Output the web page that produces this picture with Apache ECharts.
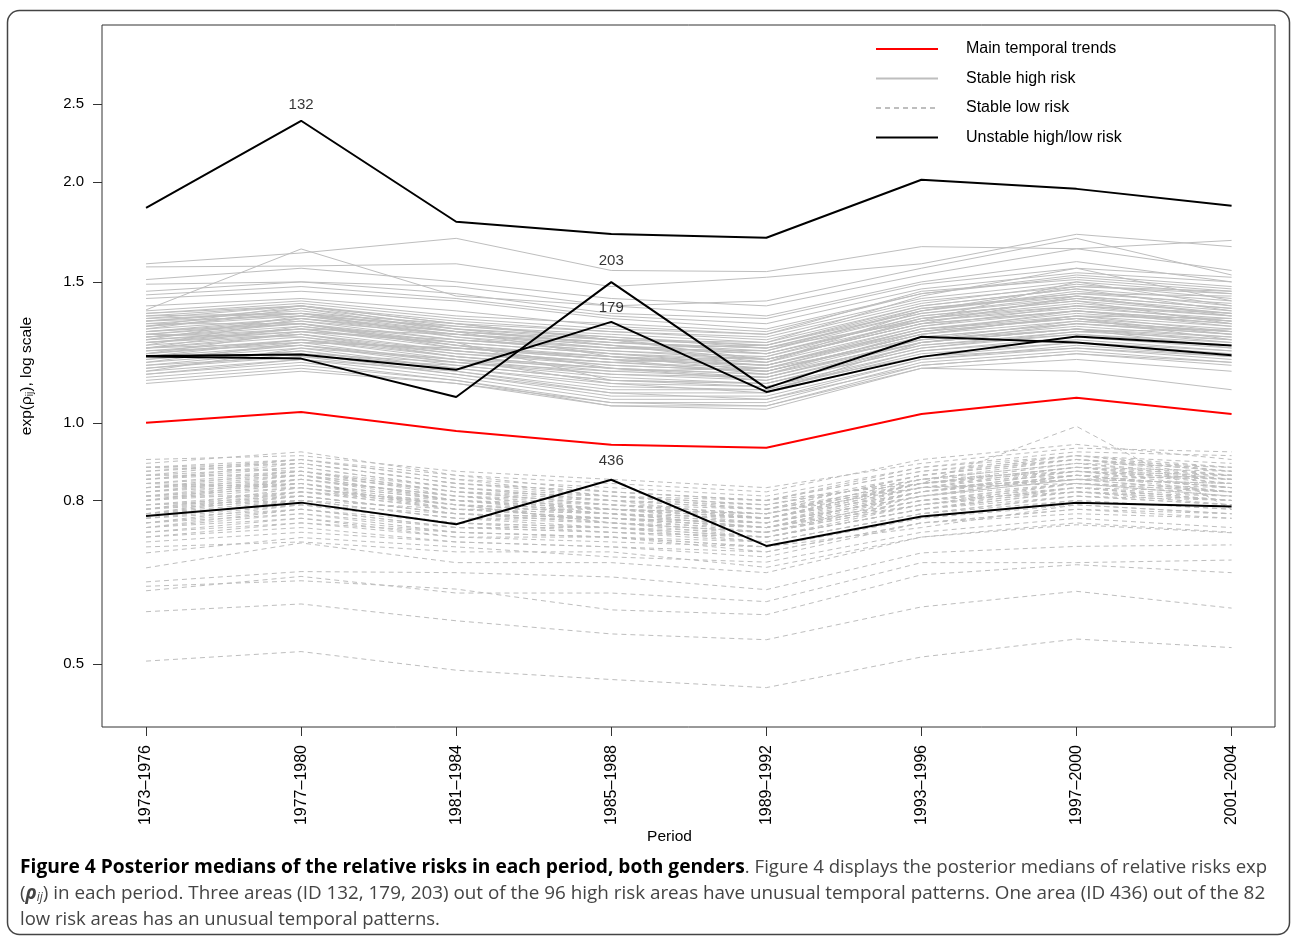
<!DOCTYPE html>
<html><head><meta charset="utf-8">
<script src="https://cdn.jsdelivr.net/npm/echarts@6/dist/echarts.min.js"></script>
<style>html,body{margin:0;padding:0;background:#fff}#c{width:1292px;height:939px}</style>
</head><body><div id="c"></div>
<script>
const periods = ['1973\u20131976','1977\u20131980','1981\u20131984','1985\u20131988','1989\u20131992','1993\u20131996','1997\u20132000','2001\u20132004'];
const yTicks = [0.5, 0.8, 1.0, 1.5, 2.0, 2.5];
const mainTrend = [1.000,1.032,0.977,0.939,0.931,1.026,1.075,1.026];
const area132 = [1.856,2.384,1.783,1.722,1.703,2.012,1.960,1.867];
const area203 = [1.210,1.203,1.077,1.499,1.105,1.281,1.260,1.215];
const area179 = [1.212,1.217,1.165,1.337,1.093,1.209,1.282,1.249];
const area436 = [0.765,0.795,0.747,0.849,0.702,0.764,0.795,0.786];
const stableHigh = [
 [1.58,1.63,1.70,1.55,1.545,1.66,1.65,1.69],
 [1.566,1.57,1.58,1.48,1.52,1.58,1.72,1.66],
 [1.384,1.649,1.44,1.40,1.42,1.56,1.70,1.53],
 [1.51,1.56,1.50,1.43,1.40,1.53,1.65,1.55],
 [1.49,1.50,1.48,1.40,1.36,1.50,1.59,1.50],
 [1.46,1.50,1.45,1.37,1.35,1.49,1.56,1.52],
 [1.445,1.48,1.43,1.36,1.33,1.47,1.54,1.50],
 [1.43,1.46,1.42,1.35,1.31,1.45,1.53,1.48],
 [1.38,1.42,1.36,1.33,1.30,1.45,1.52,1.47],
 [1.37,1.41,1.35,1.31,1.29,1.43,1.50,1.45],
 [1.36,1.40,1.34,1.30,1.28,1.42,1.48,1.46],
 [1.35,1.40,1.33,1.30,1.27,1.41,1.49,1.43],
 [1.34,1.39,1.32,1.29,1.26,1.40,1.47,1.42],
 [1.34,1.38,1.31,1.28,1.25,1.39,1.45,1.41],
 [1.33,1.37,1.31,1.27,1.25,1.38,1.46,1.40],
 [1.32,1.37,1.30,1.26,1.24,1.37,1.44,1.39],
 [1.32,1.36,1.29,1.26,1.23,1.37,1.43,1.38],
 [1.31,1.35,1.29,1.25,1.22,1.36,1.42,1.37],
 [1.30,1.35,1.28,1.24,1.22,1.35,1.41,1.36],
 [1.30,1.34,1.27,1.23,1.21,1.34,1.40,1.36],
 [1.29,1.33,1.27,1.23,1.20,1.34,1.39,1.35],
 [1.28,1.33,1.26,1.22,1.20,1.33,1.38,1.34],
 [1.28,1.32,1.25,1.21,1.19,1.32,1.38,1.33],
 [1.27,1.31,1.25,1.20,1.18,1.31,1.37,1.33],
 [1.26,1.31,1.24,1.20,1.18,1.31,1.36,1.32],
 [1.26,1.30,1.23,1.19,1.17,1.30,1.35,1.31],
 [1.25,1.29,1.23,1.18,1.16,1.29,1.34,1.30],
 [1.24,1.29,1.22,1.18,1.16,1.28,1.33,1.30],
 [1.24,1.28,1.21,1.17,1.15,1.28,1.33,1.29],
 [1.23,1.27,1.21,1.16,1.14,1.27,1.32,1.28],
 [1.22,1.27,1.20,1.15,1.14,1.26,1.31,1.27],
 [1.22,1.26,1.19,1.15,1.13,1.25,1.30,1.27],
 [1.21,1.25,1.19,1.14,1.12,1.25,1.29,1.26],
 [1.20,1.25,1.18,1.13,1.12,1.24,1.29,1.25],
 [1.20,1.24,1.17,1.12,1.11,1.23,1.28,1.24],
 [1.19,1.23,1.17,1.11,1.10,1.23,1.27,1.23],
 [1.18,1.23,1.16,1.10,1.10,1.22,1.26,1.23],
 [1.17,1.22,1.15,1.09,1.09,1.21,1.26,1.22],
 [1.17,1.21,1.15,1.08,1.08,1.20,1.25,1.21],
 [1.16,1.20,1.14,1.07,1.07,1.20,1.24,1.20],
 [1.15,1.19,1.13,1.06,1.06,1.19,1.23,1.19],
 [1.14,1.18,1.13,1.05,1.05,1.18,1.22,1.18],
 [1.13,1.17,1.12,1.05,1.04,1.17,1.20,1.16],
 [1.12,1.16,1.12,1.06,1.05,1.17,1.16,1.10],
 [1.25,1.35,1.30,1.27,1.20,1.33,1.44,1.36],
 [1.36,1.37,1.28,1.22,1.18,1.32,1.40,1.34],
 [1.22,1.30,1.27,1.24,1.25,1.40,1.47,1.38],
 [1.29,1.28,1.22,1.19,1.21,1.36,1.42,1.33],
 [1.31,1.39,1.30,1.21,1.17,1.27,1.34,1.30],
 [1.19,1.26,1.24,1.20,1.15,1.30,1.38,1.32],
 [1.27,1.36,1.32,1.28,1.24,1.34,1.50,1.40],
 [1.33,1.33,1.25,1.17,1.13,1.26,1.31,1.28],
 [1.21,1.22,1.19,1.16,1.17,1.31,1.35,1.27],
 [1.28,1.31,1.29,1.25,1.19,1.38,1.45,1.44],
 [1.24,1.32,1.26,1.13,1.12,1.24,1.30,1.31],
 [1.35,1.37,1.33,1.27,1.26,1.44,1.56,1.42],
 [1.16,1.24,1.20,1.12,1.09,1.26,1.31,1.24],
 [1.30,1.33,1.24,1.21,1.16,1.29,1.36,1.35],
 [1.37,1.40,1.33,1.27,1.22,1.35,1.43,1.37],
 [1.23,1.25,1.20,1.17,1.14,1.27,1.31,1.26],
 [1.29,1.34,1.29,1.24,1.23,1.39,1.44,1.39],
 [1.18,1.21,1.18,1.13,1.11,1.21,1.24,1.21],
 [1.26,1.29,1.21,1.17,1.15,1.26,1.33,1.29],
 [1.32,1.40,1.31,1.25,1.20,1.33,1.38,1.34],
 [1.21,1.27,1.23,1.19,1.16,1.29,1.36,1.30],
 [1.34,1.36,1.30,1.26,1.24,1.38,1.48,1.45],
 [1.15,1.20,1.16,1.09,1.07,1.18,1.22,1.19],
 [1.27,1.30,1.26,1.22,1.19,1.35,1.40,1.37],
 [1.40,1.43,1.38,1.32,1.29,1.46,1.51,1.46],
 [1.24,1.26,1.24,1.21,1.18,1.30,1.35,1.29]
];
const stableLow = [
 [0.90,0.91,0.87,0.85,0.83,0.89,0.93,0.92],
 [0.89,0.92,0.86,0.84,0.82,0.90,0.94,0.90],
 [0.88,0.90,0.85,0.83,0.81,0.88,0.92,0.91],
 [0.87,0.89,0.84,0.82,0.80,0.87,0.91,0.89],
 [0.86,0.90,0.85,0.81,0.79,0.86,0.90,0.88],
 [0.86,0.88,0.83,0.81,0.80,0.88,0.91,0.87],
 [0.85,0.87,0.82,0.80,0.79,0.85,0.89,0.88],
 [0.85,0.88,0.83,0.80,0.78,0.86,0.90,0.86],
 [0.84,0.86,0.82,0.79,0.78,0.84,0.88,0.87],
 [0.84,0.87,0.81,0.79,0.77,0.85,0.89,0.85],
 [0.83,0.85,0.81,0.78,0.77,0.84,0.87,0.86],
 [0.83,0.86,0.80,0.79,0.76,0.83,0.88,0.85],
 [0.82,0.85,0.80,0.78,0.76,0.83,0.87,0.84],
 [0.82,0.84,0.79,0.77,0.76,0.82,0.86,0.85],
 [0.81,0.84,0.80,0.77,0.75,0.82,0.86,0.83],
 [0.81,0.83,0.79,0.78,0.75,0.83,0.85,0.84],
 [0.80,0.83,0.78,0.76,0.75,0.81,0.86,0.83],
 [0.80,0.82,0.79,0.77,0.74,0.82,0.85,0.82],
 [0.79,0.82,0.78,0.76,0.74,0.80,0.84,0.83],
 [0.79,0.81,0.77,0.76,0.75,0.81,0.85,0.82],
 [0.78,0.81,0.77,0.75,0.73,0.80,0.84,0.81],
 [0.78,0.80,0.76,0.76,0.74,0.79,0.83,0.82],
 [0.77,0.80,0.76,0.75,0.73,0.80,0.83,0.80],
 [0.77,0.79,0.75,0.74,0.72,0.78,0.82,0.81],
 [0.76,0.79,0.75,0.74,0.73,0.79,0.82,0.80],
 [0.76,0.78,0.74,0.73,0.72,0.78,0.81,0.79],
 [0.75,0.78,0.74,0.74,0.71,0.77,0.81,0.80],
 [0.75,0.77,0.73,0.72,0.71,0.77,0.80,0.78],
 [0.74,0.76,0.73,0.72,0.70,0.76,0.80,0.78],
 [0.73,0.76,0.72,0.71,0.70,0.76,0.79,0.77],
 [0.73,0.75,0.72,0.72,0.69,0.75,0.78,0.77],
 [0.72,0.74,0.71,0.70,0.69,0.75,0.78,0.76],
 [0.88,0.87,0.83,0.80,0.76,0.84,0.88,0.84],
 [0.80,0.85,0.81,0.80,0.78,0.83,0.85,0.86],
 [0.84,0.83,0.79,0.75,0.74,0.82,0.87,0.85],
 [0.77,0.82,0.80,0.77,0.76,0.84,0.86,0.82],
 [0.86,0.86,0.80,0.78,0.77,0.85,0.90,0.87],
 [0.79,0.80,0.78,0.78,0.77,0.83,0.84,0.81],
 [0.82,0.86,0.82,0.81,0.79,0.85,0.87,0.83],
 [0.75,0.79,0.77,0.75,0.72,0.79,0.84,0.82],
 [0.87,0.90,0.86,0.82,0.80,0.84,0.99,0.78],
 [0.81,0.81,0.77,0.76,0.74,0.80,0.82,0.79],
 [0.78,0.83,0.79,0.75,0.73,0.81,0.85,0.84],
 [0.74,0.78,0.75,0.73,0.72,0.78,0.83,0.80],
 [0.83,0.84,0.78,0.77,0.75,0.81,0.84,0.82],
 [0.85,0.89,0.84,0.82,0.80,0.87,0.90,0.87],
 [0.80,0.84,0.80,0.78,0.76,0.82,0.87,0.85],
 [0.76,0.80,0.76,0.74,0.72,0.78,0.82,0.80],
 [0.83,0.87,0.82,0.79,0.77,0.84,0.88,0.86],
 [0.78,0.82,0.78,0.77,0.74,0.81,0.86,0.83],
 [0.74,0.77,0.74,0.73,0.71,0.77,0.81,0.79],
 [0.88,0.89,0.84,0.81,0.78,0.86,0.91,0.88],
 [0.81,0.85,0.81,0.78,0.76,0.84,0.89,0.86],
 [0.77,0.81,0.77,0.76,0.73,0.79,0.83,0.81],
 [0.72,0.75,0.73,0.72,0.70,0.74,0.79,0.77],
 [0.71,0.73,0.71,0.70,0.68,0.75,0.77,0.76],
 [0.688,0.719,0.70,0.68,0.67,0.73,0.76,0.74],
 [0.70,0.71,0.69,0.69,0.66,0.72,0.75,0.73],
 [0.659,0.708,0.669,0.669,0.650,0.720,0.746,0.729],
 [0.633,0.652,0.650,0.642,0.619,0.688,0.701,0.704],
 [0.617,0.643,0.613,0.613,0.598,0.669,0.669,0.674],
 [0.625,0.635,0.62,0.584,0.576,0.646,0.665,0.650],
 [0.581,0.594,0.566,0.545,0.536,0.589,0.616,0.587],
 [0.504,0.518,0.491,0.478,0.467,0.510,0.537,0.524]
];
const unstableLabels = [['132', area132, 1, 8], ['203', area203, 3, 13], ['179', area179, 3, 6], ['436', area436, 3, 11]];

const FONT = '"Liberation Sans", Arial, Helvetica, sans-serif';
const CAP = '"Open Sans", "Noto Sans", sans-serif';
const toPts = vals => vals.map((v, i) => [i, v]);
const series = [];
stableHigh.forEach(v => series.push({
  name: 'Stable high risk', type: 'line', data: toPts(v), symbol: 'none', silent: true, z: 1,
  lineStyle: {color: '#bebebe', width: 1}, itemStyle: {color: '#bebebe'}
}));
stableLow.forEach(v => series.push({
  name: 'Stable low risk', type: 'line', data: toPts(v), symbol: 'none', silent: true, z: 1,
  lineStyle: {color: '#bebebe', width: 1, type: [5, 4]}, itemStyle: {color: '#bebebe'}
}));
series.push({
  name: 'Main temporal trends', type: 'line', data: toPts(mainTrend), symbol: 'none', silent: true, z: 3,
  lineStyle: {color: '#ff0000', width: 2}, itemStyle: {color: '#ff0000'}
});
[area132, area203, area179, area436].forEach(v => series.push({
  name: 'Unstable high/low risk', type: 'line', data: toPts(v), symbol: 'none', silent: true, z: 4,
  lineStyle: {color: '#000', width: 2}, itemStyle: {color: '#000'}
}));
series.push({
  type: 'scatter', silent: true, z: 5, symbolSize: 1, itemStyle: {color: 'rgba(0,0,0,0)'},
  data: unstableLabels.map(([id, arr, idx, dist]) => ({
    value: [idx, arr[idx]],
    label: {show: true, position: 'top', distance: dist, formatter: id, fontFamily: FONT, fontSize: 15, color: '#000'}
  }))
});

const chart = echarts.init(document.getElementById('c'));
chart.setOption({
  animation: false,
  backgroundColor: '#fff',
  grid: {left: 102, top: 25, width: 1173, height: 702, show: true, borderColor: '#333', borderWidth: 1, containLabel: false},
  xAxis: {
    type: 'value', min: -0.284, max: 7.28,
    axisLine: {show: false, onZero: false}, splitLine: {show: false},
    axisTick: {show: true, length: 9, lineStyle: {color: '#333'}, customValues: [0,1,2,3,4,5,6,7]},
    axisLabel: {customValues: [0,1,2,3,4,5,6,7], rotate: 90, margin: 18, formatter: v => periods[Math.round(v)],
      fontFamily: FONT, fontSize: 16, color: '#000'},
    name: 'Period', nameLocation: 'middle', nameGap: 102, nameMoveOverlap: false,
    nameTextStyle: {fontFamily: FONT, fontSize: 15.5, color: '#000', padding: [0, 38, 0, 0]}
  },
  yAxis: {
    type: 'log', logBase: 10, min: 0.417, max: 3.14,
    axisLine: {show: false, onZero: false}, splitLine: {show: false}, minorTick: {show: false},
    axisTick: {show: true, length: 9, lineStyle: {color: '#333'}, customValues: yTicks},
    axisLabel: {customValues: yTicks, formatter: v => Number(v).toFixed(1), margin: 18,
      fontFamily: FONT, fontSize: 15, color: '#000'},
    name: '{n|exp(\u03c1}{s|ij}{n|), log scale}', nameLocation: 'middle', nameGap: 67, nameRotate: 90,
    nameTextStyle: {fontFamily: FONT, fontSize: 15, color: '#000',
      rich: {n: {fontFamily: FONT, fontSize: 15.5, color: '#000'}, s: {fontFamily: FONT, fontSize: 10, color: '#000', padding: [6, 0, 0, 0]}}}
  },
  legend: {
    data: ['Main temporal trends', 'Stable high risk', 'Stable low risk', 'Unstable high/low risk'],
    orient: 'vertical', left: 875, top: 41, padding: 0, itemWidth: 62, itemHeight: 14, itemGap: 13.5,
    selectedMode: false, itemStyle: {opacity: 0},
    textStyle: {fontFamily: FONT, fontSize: 16, color: '#000', padding: [0, 0, 0, 23]}
  },
  graphic: [
    {type: 'rect', silent: true, shape: {x: 7.5, y: 10.5, width: 1282, height: 924, r: 12},
      style: {fill: 'none', stroke: '#444', lineWidth: 1.5}},
    {type: 'text', x: 20, y: 868, silent: true, style: {
      verticalAlign: 'middle',
      text: '{b|Figure 4 Posterior medians of the relative risks in each period, both genders}{n|. Figure 4 displays the posterior medians of relative risks exp}',
      rich: {b: {fontFamily: CAP, fontSize: 19.2, fontWeight: 'bold', fill: '#000'}, n: {fontFamily: CAP, fontSize: 18.6, fill: '#444'}}}},
    {type: 'text', x: 20, y: 894, silent: true, style: {
      verticalAlign: 'middle',
      text: '{n|(}{r|\u03c1}{s|ij}{n|) in each period. Three areas (ID 132, 179, 203) out of the 96 high risk areas have unusual temporal patterns. One area (ID 436) out of the 82}',
      rich: {n: {fontFamily: CAP, fontSize: 18.85, fill: '#444'}, r: {fontFamily: CAP, fontSize: 18.85, fontStyle: 'italic', fontWeight: 'bold', fill: '#444'},
        s: {fontFamily: CAP, fontSize: 12, fontStyle: 'italic', fill: '#444', padding: [8, 0, 0, 0]}}}},
    {type: 'text', x: 20, y: 920, silent: true, style: {
      verticalAlign: 'middle',
      text: '{n|low risk areas has an unusual temporal patterns.}',
      rich: {n: {fontFamily: CAP, fontSize: 18.5, fill: '#444'}}}}
  ],
  series: series
});
</script></body></html>
